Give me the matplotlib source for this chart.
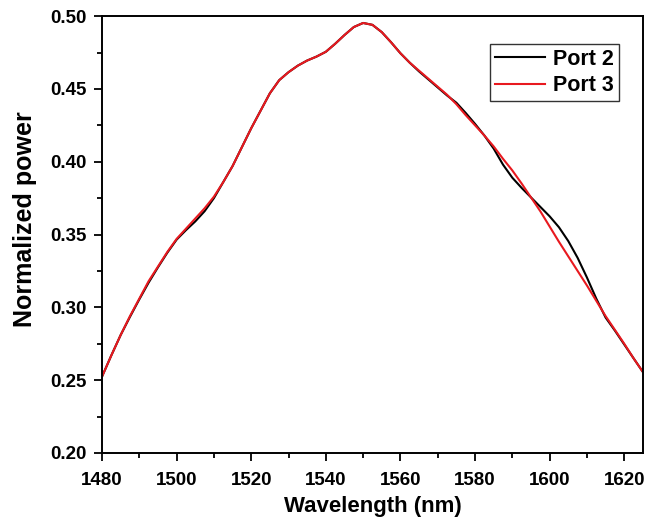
import matplotlib.pyplot as plt
import numpy as np

plt.rcParams['font.family'] = ['Liberation Sans', 'DejaVu Sans']
plt.rcParams['font.weight'] = 'bold'

# wavelength samples (nm), 2.5 nm step
wl = [1480.0, 1482.5, 1485.0, 1487.5, 1490.0, 1492.5, 1495.0, 1497.5,
      1500.0, 1502.5, 1505.0, 1507.5, 1510.0, 1512.5, 1515.0, 1517.5,
      1520.0, 1522.5, 1525.0, 1527.5, 1530.0, 1532.5, 1535.0, 1537.5,
      1540.0, 1542.5, 1545.0, 1547.5, 1550.0, 1552.5, 1555.0, 1557.5,
      1560.0, 1562.5, 1565.0, 1567.5, 1570.0, 1572.5, 1575.0, 1577.5,
      1580.0, 1582.5, 1585.0, 1587.5, 1590.0, 1592.5, 1595.0, 1597.5,
      1600.0, 1602.5, 1605.0, 1607.5, 1610.0, 1612.5, 1615.0, 1617.5,
      1620.0, 1622.5, 1625.0]

port2 = [0.2524, 0.267, 0.281, 0.2935, 0.3055, 0.317, 0.3275, 0.3375,
         0.3465, 0.353, 0.359, 0.366, 0.375, 0.386, 0.397, 0.410,
         0.423, 0.435, 0.447, 0.456, 0.4615, 0.466, 0.4695, 0.4722,
         0.4755, 0.481, 0.487, 0.4925, 0.4953, 0.494, 0.489, 0.482,
         0.4745, 0.468, 0.462, 0.4565, 0.451, 0.4455, 0.4405, 0.4335,
         0.426, 0.418, 0.409, 0.398, 0.389, 0.382, 0.3755, 0.369,
         0.3625, 0.355, 0.3455, 0.334, 0.3205, 0.306, 0.293, 0.284,
         0.2745, 0.265, 0.2556]

port3 = [0.2524, 0.267, 0.281, 0.294, 0.306, 0.318, 0.328, 0.338,
         0.347, 0.354, 0.361, 0.368, 0.376, 0.386, 0.397, 0.410,
         0.423, 0.435, 0.447, 0.456, 0.4615, 0.466, 0.4695, 0.4722,
         0.4755, 0.481, 0.487, 0.4925, 0.4953, 0.494, 0.489, 0.482,
         0.4745, 0.468, 0.4625, 0.457, 0.4515, 0.446, 0.4395, 0.432,
         0.425, 0.418, 0.4105, 0.402, 0.394, 0.385, 0.3755, 0.366,
         0.3555, 0.345, 0.335, 0.325, 0.315, 0.3045, 0.294, 0.2845,
         0.275, 0.265, 0.2556]

fig = plt.figure(figsize=(6.54, 5.2), dpi=100)
ax = fig.add_axes([0.156, 0.129, 0.827, 0.840])

ax.plot(wl, port2, color='black', lw=1.5, label='Port 2')
ax.plot(wl, port3, color='#e8191f', lw=1.5, label='Port 3')

ax.set_xlim(1480, 1625)
ax.set_ylim(0.20, 0.50)
ax.set_xticks(np.arange(1480, 1621, 20))
ax.set_xticks(np.arange(1490, 1625, 20), minor=True)
ax.set_yticks(np.arange(0.20, 0.501, 0.05))
ax.set_yticks(np.arange(0.225, 0.5, 0.05), minor=True)
ax.yaxis.set_major_formatter(plt.FormatStrFormatter('%.2f'))

ax.tick_params(which='both', direction='out', top=False, right=False,
               width=1.3, labelsize=13.5, pad=5)
ax.tick_params(axis='x', which='major', pad=8)
ax.tick_params(which='major', length=6)
ax.tick_params(which='minor', length=3.5)
for s in ax.spines.values():
    s.set_linewidth(1.4)

ax.set_xlabel('Wavelength (nm)', fontsize=16, fontweight='bold', labelpad=5)
ax.set_ylabel('Normalized power', fontsize=18, fontweight='bold')
ax.yaxis.set_label_coords(-0.121, 0.535)

leg = ax.legend(loc='upper right', bbox_to_anchor=(0.9556, 0.936), fontsize=15.5,
                fancybox=False, framealpha=1, edgecolor='#333333',
                handlelength=2.35, handletextpad=0.37, borderpad=0.22,
                labelspacing=0.25, borderaxespad=0)
leg.get_frame().set_linewidth(1.0)

fig.savefig('out.png', dpi=100)
